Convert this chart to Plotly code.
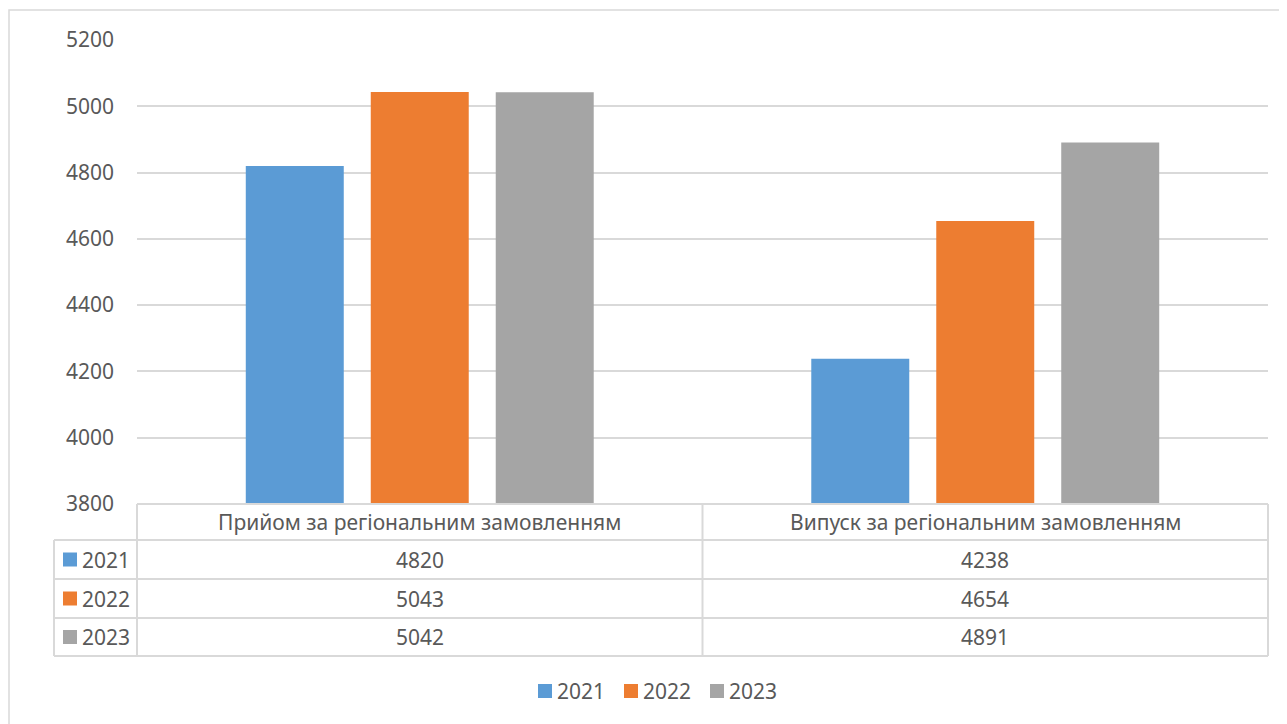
import plotly.graph_objects as go

categories = ["Прийом за регіональним замовленням", "Випуск за регіональним замовленням"]
years = ["2021", "2022", "2023"]
values_2021 = [4820, 4238]
values_2022 = [5043, 4654]
values_2023 = [5042, 4891]
series_values = [values_2021, values_2022, values_2023]
colors = ["#5B9BD5", "#ED7D31", "#A5A5A5"]
y_ticks = [3800, 4000, 4200, 4400, 4600, 4800, 5000, 5200]

W, H = 1287, 724
OFF = 8  # page body margin
FONT = "Noto Sans"
FS = 21
TXT = "#595959"
GRID = "#D9D9D9"

# layout geometry (target screen pixels)
PX0, PX1 = 137, 1268
PY_TOP, PY_BOT = 40, 504
ROW_Y = [504, 540, 579, 618, 656]
LEG_X0 = 54
LEGEND_Y = 691
LEGEND_X = [538, 624, 710]


def px(x):
    return (x - OFF) / W


def py(y):
    return 1 - (y - OFF) / H


fig = go.Figure()
for name, vals, col in zip(years, series_values, colors):
    fig.add_trace(go.Bar(name=name, x=categories, y=vals, showlegend=False,
                         marker=dict(color=col, line=dict(width=0))))

shapes = []
annotations = []

# chart border
shapes.append(dict(type="rect", xref="paper", yref="paper", x0=px(9), x1=px(1320), y0=py(10), y1=py(770),
                   line=dict(color=GRID, width=1.5), fillcolor="rgba(0,0,0,0)", layer="below"))

# table horizontal lines
for i, yv in enumerate(ROW_Y):
    x0 = PX0 if i == 0 else LEG_X0
    shapes.append(dict(type="line", xref="paper", yref="paper", x0=px(x0), x1=px(PX1), y0=py(yv), y1=py(yv),
                       line=dict(color=GRID, width=2)))
# vertical lines
mid = (PX0 + PX1) / 2
shapes.append(dict(type="line", xref="paper", yref="paper", x0=px(LEG_X0), x1=px(LEG_X0),
                   y0=py(ROW_Y[1]), y1=py(ROW_Y[-1]), line=dict(color=GRID, width=2)))
for xv in [PX0, mid, PX1]:
    shapes.append(dict(type="line", xref="paper", yref="paper", x0=px(xv), x1=px(xv),
                       y0=py(ROW_Y[0]), y1=py(ROW_Y[-1]), line=dict(color=GRID, width=2)))

# header text
col_centers = [(PX0 + mid) / 2, (mid + PX1) / 2]
for cname, cx in zip(categories, col_centers):
    annotations.append(dict(x=px(cx), y=py((ROW_Y[0] + ROW_Y[1]) / 2), xref="paper", yref="paper", text=cname,
                            showarrow=False, font=dict(family=FONT, size=FS, color=TXT),
                            xanchor="center", yanchor="middle"))

# table rows
for r, (yr, vals, col) in enumerate(zip(years, series_values, colors)):
    yc = (ROW_Y[r + 1] + ROW_Y[r + 2]) / 2
    shapes.append(dict(type="rect", xref="paper", yref="paper", x0=px(63), x1=px(77), y0=py(yc - 7), y1=py(yc + 7),
                       fillcolor=col, line=dict(width=0)))
    annotations.append(dict(x=px(80), y=py(yc), xref="paper", yref="paper", text=yr, showarrow=False,
                            font=dict(family=FONT, size=FS, color=TXT), xanchor="left", yanchor="middle"))
    for v, cx in zip(vals, col_centers):
        annotations.append(dict(x=px(cx), y=py(yc), xref="paper", yref="paper", text=str(v), showarrow=False,
                                font=dict(family=FONT, size=FS, color=TXT), xanchor="center", yanchor="middle"))

# bottom legend
for yr, col, lx in zip(years, colors, LEGEND_X):
    shapes.append(dict(type="rect", xref="paper", yref="paper", x0=px(lx), x1=px(lx + 14),
                       y0=py(LEGEND_Y - 7), y1=py(LEGEND_Y + 7), fillcolor=col, line=dict(width=0)))
    annotations.append(dict(x=px(lx + 17), y=py(LEGEND_Y), xref="paper", yref="paper", text=yr, showarrow=False,
                            font=dict(family=FONT, size=FS, color=TXT), xanchor="left", yanchor="middle"))

fig.update_layout(
    width=W, height=H,
    margin=dict(l=0, r=0, t=0, b=0, autoexpand=False),
    paper_bgcolor="white", plot_bgcolor="white",
    barmode="group", bargap=0.337, bargroupgap=0.216,
    font=dict(family=FONT, size=FS, color=TXT),
    showlegend=False,
    xaxis=dict(domain=[px(PX0), px(PX1)], showticklabels=False, showgrid=False, zeroline=False, showline=False,
               fixedrange=True, automargin=False),
    yaxis=dict(domain=[py(PY_BOT), py(PY_TOP)], range=[3800, 5200], tickvals=y_ticks, showgrid=True,
               gridcolor=GRID, gridwidth=1.5, zeroline=False, showline=False, ticklabelstandoff=22,
               automargin=False, tickfont=dict(family=FONT, size=FS, color=TXT)),
    shapes=shapes, annotations=annotations,
)

fig.write_html("out.html")
